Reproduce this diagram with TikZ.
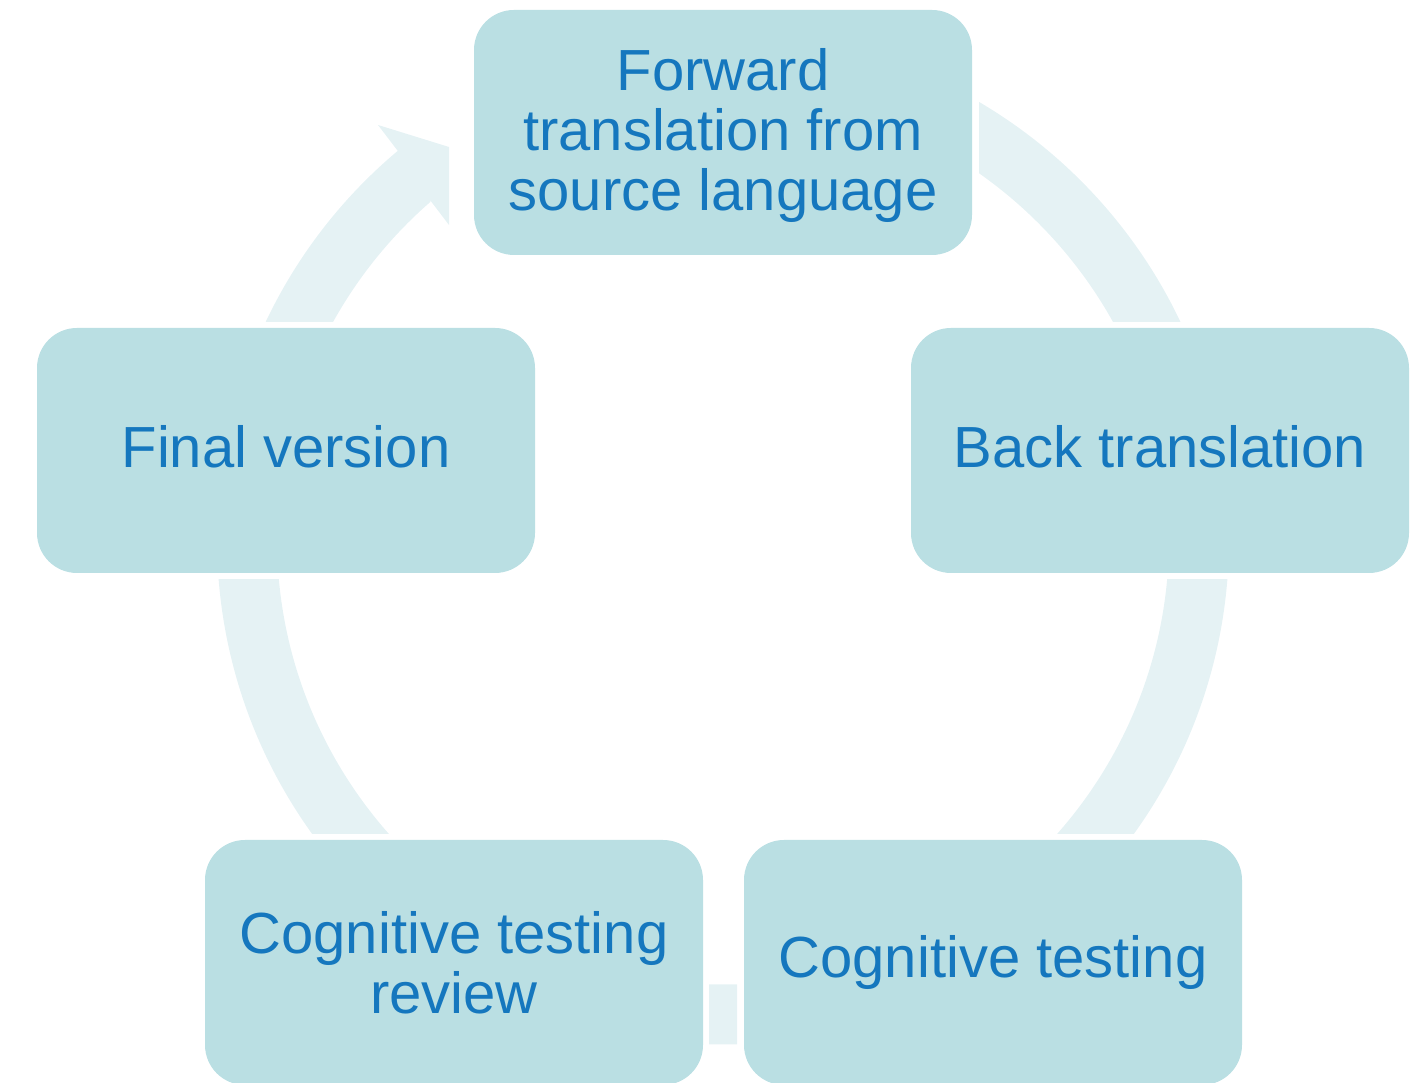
\documentclass[tikz,border=0pt]{standalone}
\usepackage{fontspec}
\setmainfont{Liberation Sans}
\definecolor{boxfill}{HTML}{BADFE3}
\definecolor{ringfill}{HTML}{E5F2F4}
\definecolor{txtblue}{HTML}{1577BE}
\begin{document}
\begin{tikzpicture}[
  stage/.style={draw=none, fill=boxfill, rounded corners=0.4cm,
    minimum width=4.98cm, minimum height=2.45cm, inner sep=0pt,
    align=center, text=txtblue,
    font=\fontsize{16.5pt}{17.1pt}\selectfont},
  ring/.style={fill=ringfill}
]
\useasboundingbox (0,0) rectangle (14.17,10.83);
\coordinate (C) at (7.23,5.445);
% ring segments
\begin{scope}
  \clip (9.79,7.61) rectangle (14.17,10.83);
  \fill[ring,even odd rule] (C) circle (5.06) (C) circle (4.46);
\end{scope}
\begin{scope}
  \clip (7.23,2.49) rectangle (14.17,5.03);
  \fill[ring,even odd rule] (C) circle (5.06) (C) circle (4.46);
\end{scope}
\begin{scope}
  \clip (7.09,0) rectangle (7.37,2.0);
  \fill[ring,even odd rule] (C) circle (5.06) (C) circle (4.46);
\end{scope}
\begin{scope}
  \clip (0,2.49) rectangle (7.23,5.03);
  \fill[ring,even odd rule] (C) circle (5.06) (C) circle (4.46);
\end{scope}
\begin{scope}
  \clip (0,7.61) rectangle (4.49,10.83);
  \fill[ring] ([shift={(160:5.06)}]C) arc[start angle=160, end angle=130, radius=5.06]
    -- (3.78,9.58) -- (4.49,9.36) -- (4.49,8.58) -- (4.30,8.83)
    -- ([shift={(131:4.46)}]C) arc[start angle=131, end angle=160, radius=4.46] -- cycle;
\end{scope}
% stages
\node[stage] (fwd) at (7.23,9.505) {};
\node[text=txtblue, align=center, inner sep=0pt, font=\fontsize{16.5pt}{17.1pt}\selectfont]
  (fwdtext) at ([yshift=-0.03cm]fwd.center) {Forward\\translation from\\source language};
\node[stage] (back) at (11.60,6.325) {};
\node[text=txtblue, inner sep=0pt, font=\fontsize{16.5pt}{17.1pt}\selectfont]
  (backtext) at ([yshift=0.04cm]back.center) {Back translation};
\node[stage] (cog) at (9.93,1.205) {Cognitive testing};
\node[stage] (rev) at (4.54,1.205) {Cognitive testing\\review};
\node[stage] (final) at (2.86,6.325) {};
\node[text=txtblue, inner sep=0pt, font=\fontsize{16.5pt}{17.1pt}\selectfont]
  (finaltext) at ([yshift=0.04cm]final.center) {Final version};
\end{tikzpicture}
\end{document}
